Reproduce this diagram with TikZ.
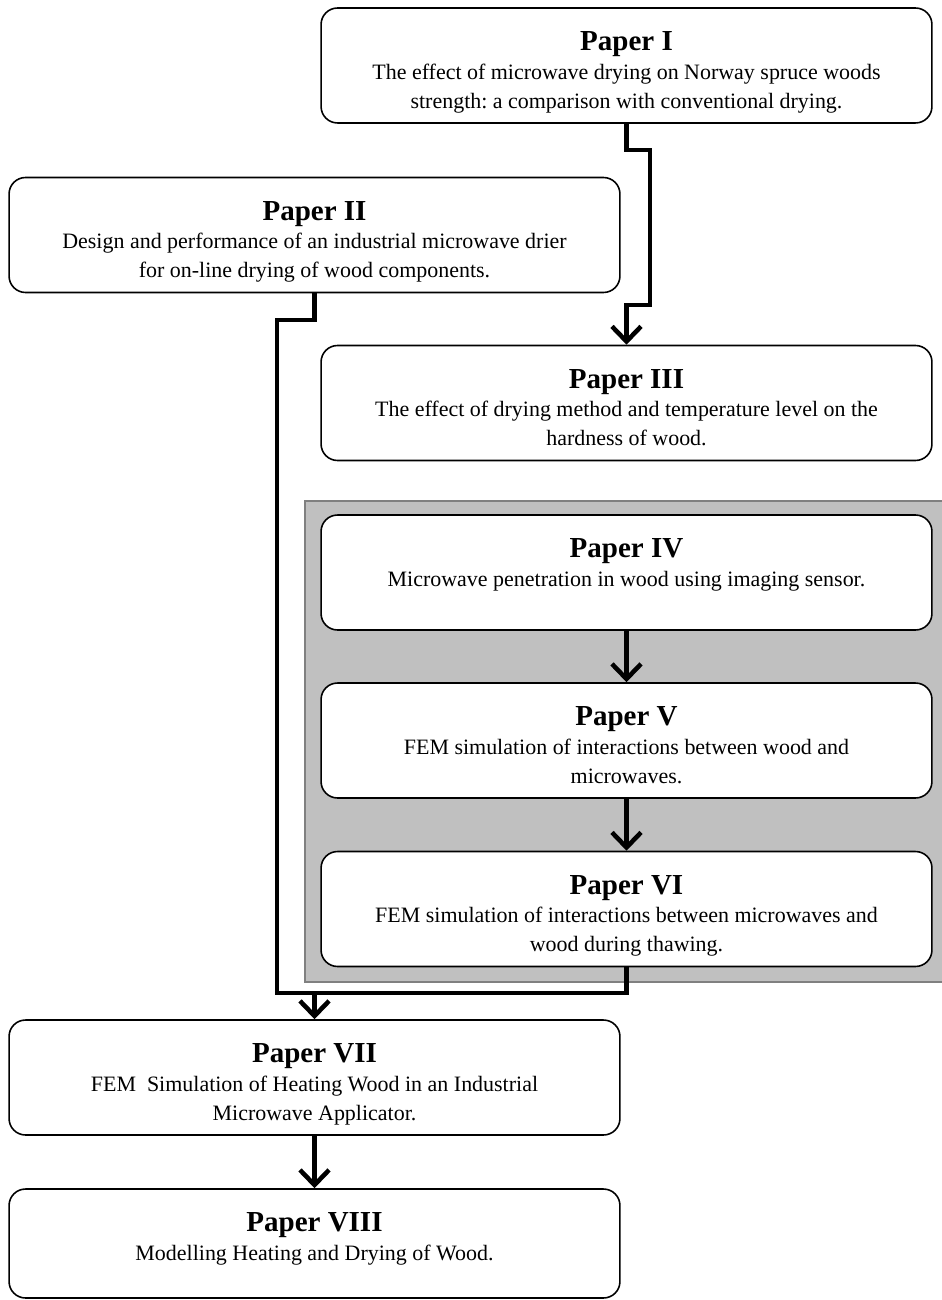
\documentclass[tikz,border=0pt]{standalone}
\usepackage{fontspec}
\setmainfont{Liberation Serif}
\usetikzlibrary{arrows.meta}
\frenchspacing
\definecolor{panelfill}{RGB}{192,192,192}
\definecolor{paneledge}{RGB}{128,128,128}
\newcommand\ptitle{\fontsize{16.5}{19}\selectfont\bfseries}
\newcommand\pbody{\fontsize{12.5}{16.4}\selectfont}
\newcommand\papercontent[3]{\parbox[c][#1][t]{12cm}{\centering\rule{0pt}{0.85cm}{\ptitle #2\par}{\pbody #3\par}}}
\begin{document}
\begin{tikzpicture}[x=0.02cm, y=-0.02cm,
  paper/.style={draw=black, line width=0.9pt, rounded corners=0.33cm, fill=white, inner sep=0pt, minimum width=12.22cm},
  conn/.style={line width=2.6pt, line join=miter, line cap=butt},
  flow/.style={conn, -{Straight Barb[length=0.3cm, width=0.58cm]}}]
\useasboundingbox (0,0) rectangle (941,1300);
\fill[white] (0,0) rectangle (941,1300);
% grey panel
\draw[paneledge, fill=panelfill, line width=1pt] (305,501) rectangle (960,982);
% papers
\node[paper] (P1) at (626.5,65.5) {\papercontent{2.3cm}{Paper I}{The effect of microwave drying on Norway spruce woods\\strength: a comparison with conventional drying.}};
\node[paper] (P2) at (314.5,235) {\papercontent{2.3cm}{Paper II}{Design and performance of an industrial microwave drier\\for on-line drying of wood components.}};
\node[paper] (P3) at (626.5,403) {\papercontent{2.3cm}{Paper III}{The effect of drying method and temperature level on the\\hardness of wood.}};
\node[paper] (P4) at (626.5,572.5) {\papercontent{2.3cm}{Paper IV}{Microwave penetration in wood using imaging sensor.}};
\node[paper] (P5) at (626.5,740.5) {\papercontent{2.3cm}{Paper V}{FEM simulation of interactions between wood and\\microwaves.}};
\node[paper] (P6) at (626.5,909) {\papercontent{2.3cm}{Paper VI}{FEM simulation of interactions between microwaves and\\wood during thawing.}};
\node[paper] (P7) at (314.5,1077.5) {\papercontent{2.3cm}{Paper VII}{FEM\ \ Simulation of Heating Wood in an Industrial\\Microwave Applicator.}};
\node[paper] (P8) at (314.5,1243.5) {\papercontent{2.18cm}{Paper VIII}{Modelling Heating and Drying of Wood.}};
% connectors
\draw[flow] (P1.south) |- (650,150) |- (P3.north |- 0,305) -- (P3.north);
\draw[conn] (P2.south) |- (277,320) |- (P6.south |- 0,993) -- (P6.south);
\coordinate (J) at (P7.north |- 0,993);
\draw[flow] (J) -- (P7.north);
\draw[flow] (P4.south) -- (P5.north);
\draw[flow] (P5.south) -- (P6.north);
\draw[flow] (P7.south) -- (P8.north);
\end{tikzpicture}
\end{document}
